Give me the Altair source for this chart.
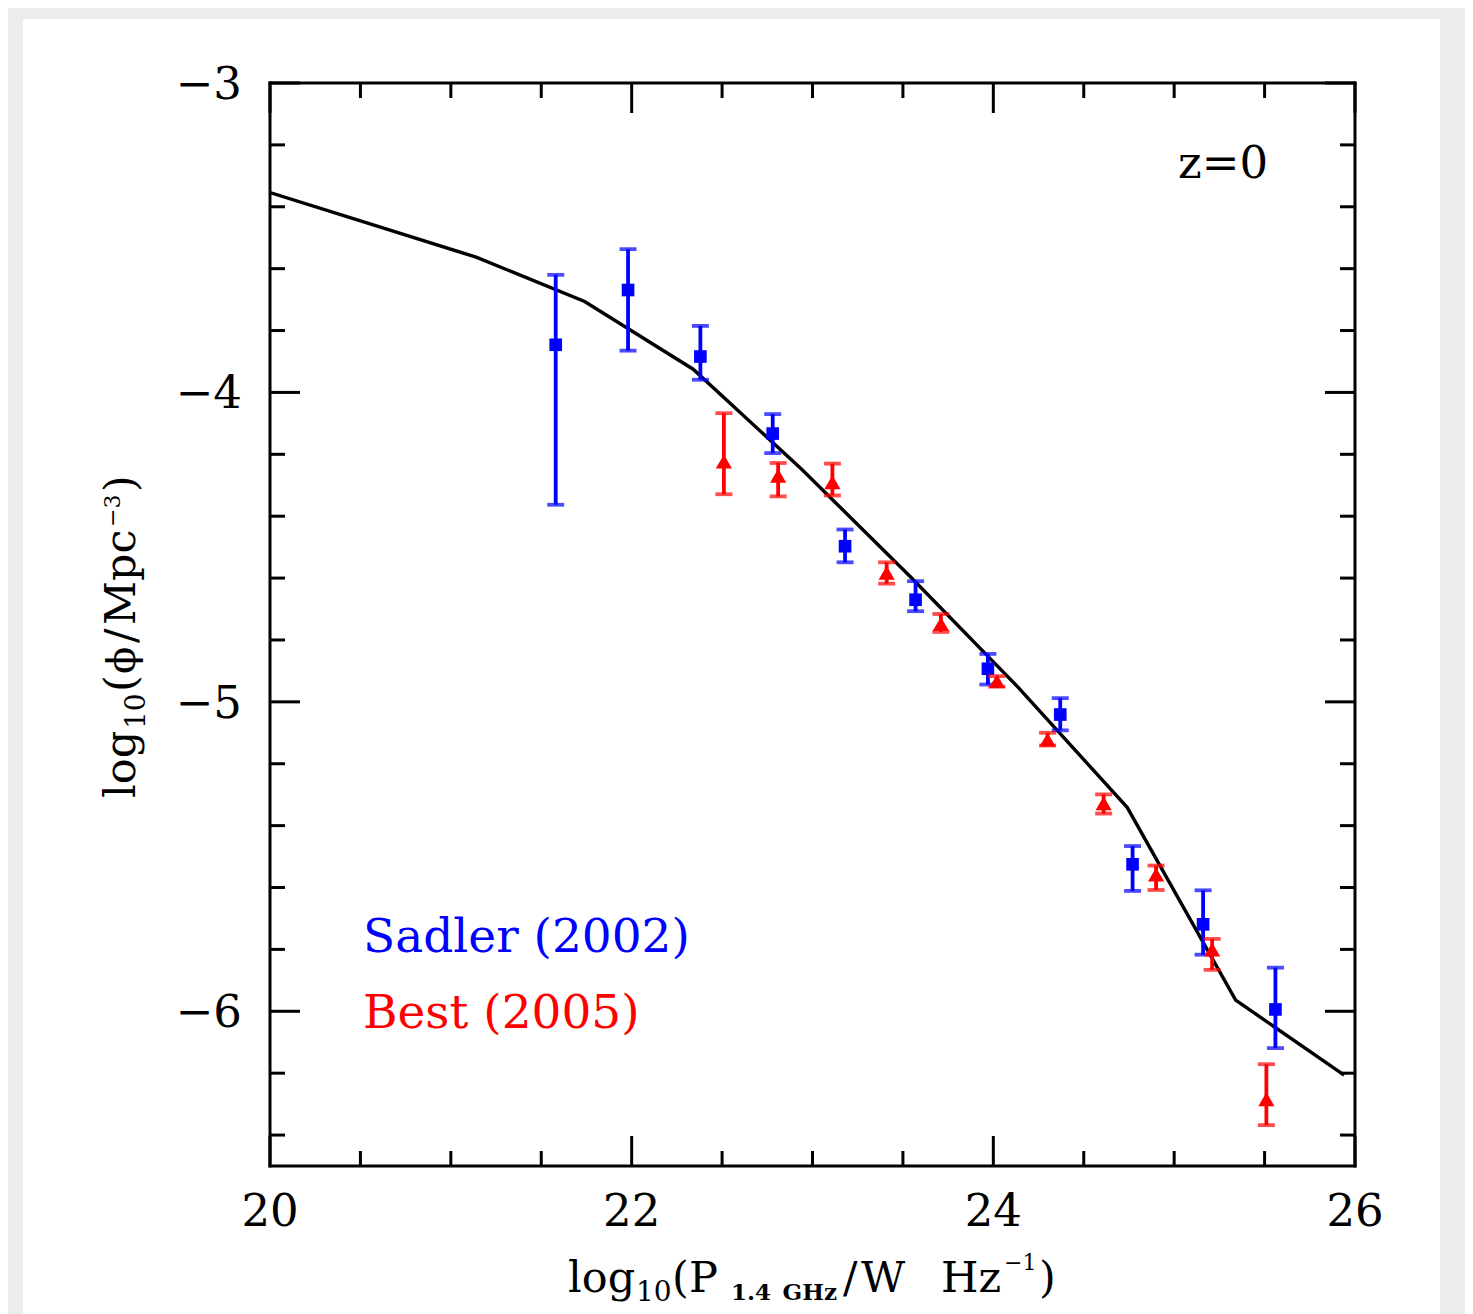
import altair as alt
import pandas as pd

# ---------------- data ----------------
# Sadler (2002): blue squares with error bars
sadler_x = [21.58, 21.98, 22.38, 22.78, 23.18, 23.57, 23.97, 24.37, 24.77, 25.16, 25.56]
sadler_y = [-3.846, -3.669, -3.884, -4.133, -4.497, -4.670, -4.893, -5.041, -5.525, -5.719, -5.994]
sadler_hi = [-3.620, -3.537, -3.785, -4.070, -4.443, -4.610, -4.845, -4.988, -5.466, -5.609, -5.859]
sadler_lo = [-4.363, -3.865, -3.959, -4.196, -4.549, -4.707, -4.944, -5.092, -5.611, -5.817, -6.119]

# Best (2005): red triangles with error bars
best_x = [22.51, 22.81, 23.11, 23.41, 23.71, 24.02, 24.30, 24.61, 24.90, 25.21, 25.51]
best_y = [-4.223, -4.269, -4.290, -4.583, -4.748, -4.933, -5.122, -5.328, -5.558, -5.800, -6.284]
best_hi = [-4.067, -4.228, -4.230, -4.549, -4.716, -4.917, -5.100, -5.299, -5.529, -5.766, -6.171]
best_lo = [-4.329, -4.336, -4.333, -4.618, -4.774, -4.951, -5.141, -5.361, -5.608, -5.866, -6.368]

# model curve
model_x = [20.0, 20.54, 21.14, 21.74, 22.34, 22.94, 23.54, 24.14, 24.74, 25.34, 25.94]
model_y = [-3.354, -3.453, -3.563, -3.706, -3.925, -4.248, -4.595, -4.955, -5.341, -5.964, -6.206]

# axes
x_domain = [20, 26]
y_domain = [-6.5, -3]
x_label_vals = [20, 22, 24, 26]
x_label_text = ["20", "22", "24", "26"]
y_label_vals = [-3, -4, -5, -6]
y_label_text = ["\u22123", "\u22124", "\u22125", "\u22126"]
x_major = [20, 22, 24, 26]
x_minor = [20.5, 21, 21.5, 22.5, 23, 23.5, 24.5, 25, 25.5]
y_major = [-3, -4, -5, -6]
y_minor = [-3.2, -3.4, -3.6, -3.8, -4.2, -4.4, -4.6, -4.8, -5.2, -5.4, -5.6, -5.8, -6.2, -6.4]

# ---------------- chart ----------------
W, H = 1085, 1083
PAD_L, PAD_T, PAD_R, PAD_B = 262, 75, 110, 148
SERIF = "DejaVu Serif"
BLUE = "#0000ff"
RED = "#ff0000"
GRAY = "#ececec"
MAJ, MIN = 30, 15

xs = alt.Scale(domain=x_domain, nice=False, zero=False)
ys = alt.Scale(domain=y_domain, nice=False, zero=False)

sadler = pd.DataFrame({"x": sadler_x, "y": sadler_y, "hi": sadler_hi, "lo": sadler_lo})
best = pd.DataFrame({"x": best_x, "y": best_y, "hi": best_hi, "lo": best_lo})
model = pd.DataFrame({"x": model_x, "y": model_y})
one = pd.DataFrame({"a": [0]})

X = lambda f: alt.X(f, type="quantitative", scale=xs, axis=None)
Y = lambda f: alt.Y(f, type="quantitative", scale=ys, axis=None)


def strip(x0, x1, y0, y1):
    return alt.Chart(one).mark_rect(color=GRAY).encode(
        x=alt.value(x0), x2=alt.value(x1), y=alt.value(y0), y2=alt.value(y1)
    )


svg_l, svg_t = -PAD_L, -PAD_T
svg_r, svg_b = W + PAD_R, H + PAD_B
border = [
    strip(svg_l, svg_r, svg_t, -64),        # top band
    strip(svg_l, -247, svg_t, svg_b),       # left band
    strip(1170, svg_r, svg_t, svg_b),       # right band
]

line = alt.Chart(model).mark_line(color="black", strokeWidth=3.4, clip=True).encode(
    x=X("x"), y=Y("y")
)


def errbars(df, color, shape, size):
    base = alt.Chart(df)
    bars = base.mark_rule(color=color, strokeWidth=3.8).encode(x=X("x"), y=Y("lo"), y2="hi")
    cap_hi = base.mark_tick(color=color, orient="horizontal", size=17, thickness=3.8).encode(x=X("x"), y=Y("hi"))
    cap_lo = base.mark_tick(color=color, orient="horizontal", size=17, thickness=3.8).encode(x=X("x"), y=Y("lo"))
    pts = base.mark_point(color=color, shape=shape, size=size, filled=True, opacity=1).encode(x=X("x"), y=Y("y"))
    return [bars, cap_hi, cap_lo, pts]


frame = pd.DataFrame({
    "x": [20, 26, 20, 20], "x2": [20, 26, 26, 26],
    "y": [-6.5, -6.5, -3, -6.5], "y2": [-3, -3, -3, -6.5],
})
frame_layer = alt.Chart(frame).mark_rule(color="black", strokeWidth=3, strokeCap="square").encode(
    x=X("x"), x2="x2", y=Y("y"), y2="y2"
)


def xticks(vals, L):
    d = pd.DataFrame({"v": vals})
    b = alt.Chart(d).mark_rule(color="black", strokeWidth=3)
    return [
        b.encode(x=X("v"), y=alt.value(H), y2=alt.value(H - L)),
        b.encode(x=X("v"), y=alt.value(0), y2=alt.value(L)),
    ]


def yticks(vals, L):
    d = pd.DataFrame({"v": vals})
    b = alt.Chart(d).mark_rule(color="black", strokeWidth=3)
    return [
        b.encode(y=Y("v"), x=alt.value(0), x2=alt.value(L)),
        b.encode(y=Y("v"), x=alt.value(W), x2=alt.value(W - L)),
    ]


# tick labels placed through the scales
xlab = alt.Chart(pd.DataFrame({"v": x_label_vals, "t": x_label_text})).mark_text(
    font=SERIF, fontSize=45, color="black", align="center", baseline="alphabetic"
).encode(x=X("v"), y=alt.value(H + 60), text="t:N")

ylab = alt.Chart(pd.DataFrame({"v": y_label_vals, "t": y_label_text})).mark_text(
    font=SERIF, fontSize=45, color="black", align="right", baseline="alphabetic", dy=16
).encode(y=Y("v"), x=alt.value(-28), text="t:N")


def txt(s, x, y, size, angle=0, color="black", weight="normal"):
    kw = dict(text=s, x=x, y=y, fontSize=size, color=color, fontWeight=weight,
              font=SERIF, align="left", baseline="alphabetic")
    if angle:
        kw["angle"] = angle
    return alt.Chart(one).mark_text(**kw)


texts = [
    # x title: log10(P_1.4 GHz / W Hz^-1)
    txt("log", 298, 1209, 43),
    txt("10", 366, 1218, 28),
    txt("(", 402, 1209, 43),
    txt("P", 419, 1209, 43),
    txt("1.4\u2002GHz", 461, 1217, 23, weight="bold"),
    txt("/", 573, 1209, 43),
    txt("W", 591, 1209, 43),
    txt("Hz", 671, 1209, 43),
    txt("\u22121", 734, 1187, 22),
    txt(")", 769, 1209, 43),
    # y title: log10(phi / Mpc^-3), rotated
    txt("log", -135, 715, 43, angle=270),
    txt("10", -125, 646, 28, angle=270),
    txt("(", -135, 609, 43, angle=270),
    txt("\u03d5", -135, 591, 40, angle=270),
    txt("/", -135, 560, 43, angle=270),
    txt("Mpc", -135, 542, 43, angle=270),
    txt("\u22123", -150, 444, 22, angle=270),
    txt(")", -135, 409, 43, angle=270),
    # annotations
    txt("z=0", 908, 95, 45),
    txt("Sadler (2002)", 93, 869, 47, color=BLUE),
    txt("Best (2005)", 93, 945, 47, color=RED),
]

layers = (
    border
    + [line]
    + errbars(sadler, BLUE, "square", 160)
    + errbars(best, RED, "triangle-up", 260)
    + [frame_layer]
    + xticks(x_major, MAJ) + xticks(x_minor, MIN)
    + yticks(y_major, MAJ) + yticks(y_minor, MIN)
    + [xlab, ylab]
    + texts
)

chart = alt.layer(*layers).properties(
    width=W, height=H,
    autosize=alt.AutoSizeParams(type="none"),
    padding={"left": PAD_L, "top": PAD_T, "right": PAD_R, "bottom": PAD_B},
    background="white",
).configure_view(stroke=None, fill=None)

chart.save("out.html", embed_options={"renderer": "svg", "actions": False})
